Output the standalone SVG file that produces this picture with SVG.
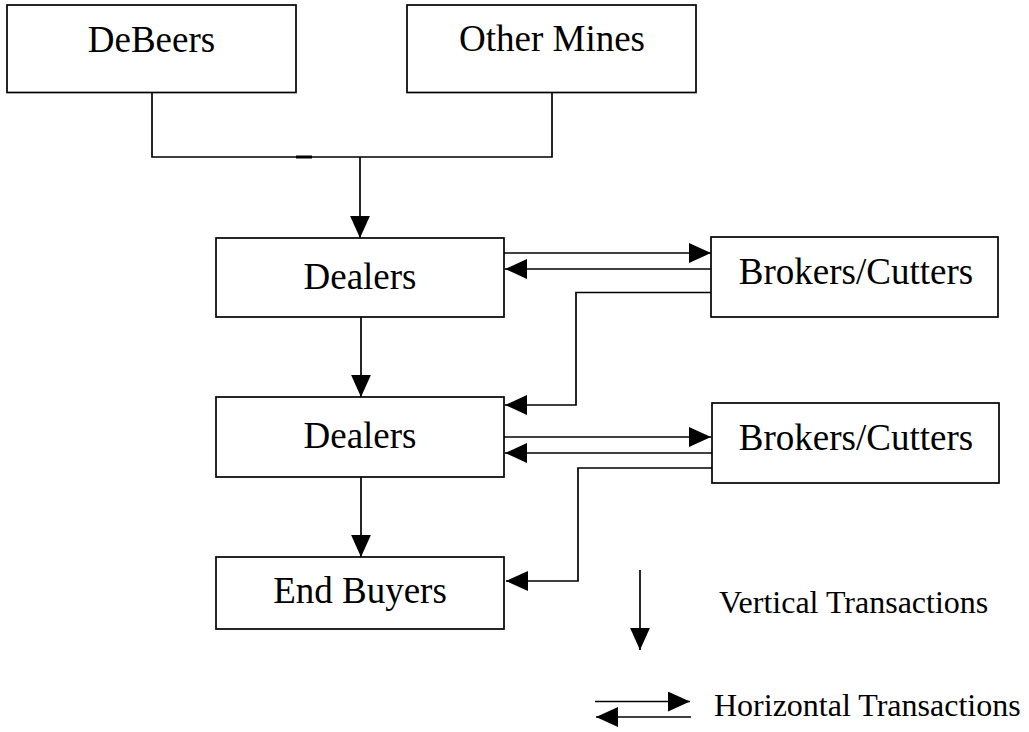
<svg xmlns="http://www.w3.org/2000/svg" width="1029" height="732" viewBox="0 0 1029 732">
<defs>
<marker id="ah" markerUnits="userSpaceOnUse" markerWidth="22" markerHeight="20" viewBox="0 0 20 18" refX="20" refY="9" orient="auto">
<path d="M0,0 L20,9 L0,18 Z" fill="#000"/>
</marker>
<style>
.box{fill:#fff;stroke:#000;stroke-width:1.7}
.lbl{font-family:"Liberation Serif","Times New Roman",serif;font-size:37px;fill:#000;text-anchor:middle}
.leg{font-family:"Liberation Serif","Times New Roman",serif;font-size:32px;fill:#000}
.ln{fill:none;stroke:#000;stroke-width:1.7}
.arr{fill:none;stroke:#000;stroke-width:1.7;marker-end:url(#ah)}
</style>
</defs>
<rect width="1029" height="732" fill="#fff"/>
<g id="connectors">
<path class="ln" d="M152,92.5 V157 H552 V92.5"/>
<line x1="296" y1="157" x2="312" y2="157" stroke="#000" stroke-width="3"/>
<line class="arr" x1="360" y1="157" x2="360" y2="238"/>
<line class="arr" x1="361" y1="317" x2="361" y2="397"/>
<line class="arr" x1="361" y1="477" x2="361" y2="557"/>
<line class="arr" x1="504" y1="253" x2="711" y2="253"/>
<line class="arr" x1="711" y1="269" x2="505" y2="269"/>
<path class="arr" d="M711,292.5 H576 V405 H505"/>
<line class="arr" x1="504" y1="437" x2="711" y2="437"/>
<line class="arr" x1="712" y1="453" x2="505" y2="453"/>
<path class="arr" d="M715,468 H578 V581 H506"/>
</g>
<g id="debeers">
<rect class="box" x="7" y="5" width="289" height="87.5"/>
<text class="lbl" x="151.5" y="52">DeBeers</text>
</g>
<g id="other-mines">
<rect class="box" x="407" y="5" width="289" height="87.5"/>
<text class="lbl" x="552" y="51">Other Mines</text>
</g>
<g id="dealers-1">
<rect class="box" x="216" y="238" width="288" height="79"/>
<text class="lbl" x="360" y="289">Dealers</text>
</g>
<g id="brokers-1">
<rect class="box" x="711" y="237" width="287" height="80"/>
<text class="lbl" x="856" y="284">Brokers/Cutters</text>
</g>
<g id="dealers-2">
<rect class="box" x="216" y="397" width="288" height="80"/>
<text class="lbl" x="360" y="448">Dealers</text>
</g>
<g id="brokers-2">
<rect class="box" x="712" y="403" width="287" height="80"/>
<text class="lbl" x="856" y="450">Brokers/Cutters</text>
</g>
<g id="end-buyers">
<rect class="box" x="216" y="557" width="288" height="72"/>
<text class="lbl" x="360" y="603">End Buyers</text>
</g>
<g id="legend">
<line class="arr" x1="640" y1="570" x2="640" y2="650"/>
<text class="leg" x="719" y="613">Vertical Transactions</text>
<line class="arr" x1="595" y1="701.5" x2="690" y2="701.5"/>
<line class="arr" x1="691" y1="717" x2="596" y2="717"/>
<text class="leg" x="714" y="716">Horizontal Transactions</text>
</g>
</svg>
